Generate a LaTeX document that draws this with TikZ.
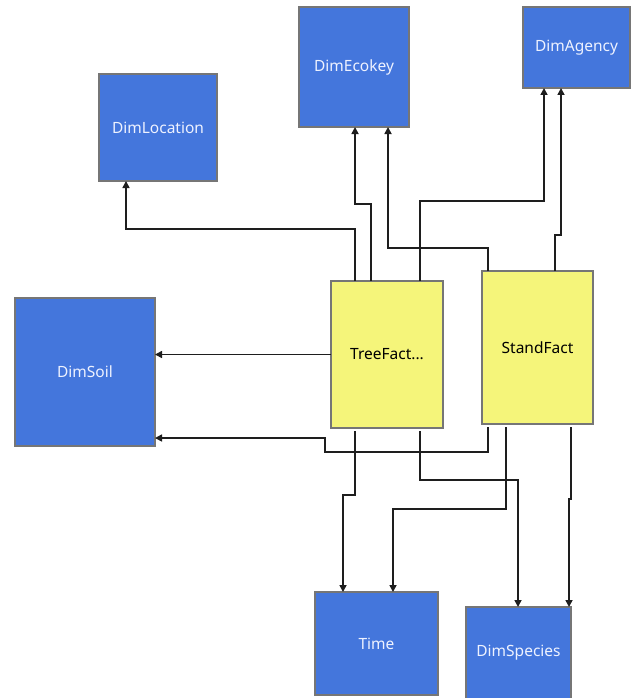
\documentclass[tikz,border=0pt]{standalone}
\usepackage{fontspec}
\setmainfont{Noto Sans}
\usetikzlibrary{arrows.meta}
\definecolor{dimblue}{RGB}{68,118,220}
\definecolor{factyellow}{RGB}{245,245,122}
\definecolor{boxedge}{RGB}{118,118,118}
\definecolor{dimtext}{RGB}{238,242,255}
\definecolor{wire}{RGB}{30,30,30}
\begin{document}
\begin{tikzpicture}[x=1pt,y=-1pt,
  tbox/.style={draw=boxedge,line width=1.4pt,anchor=north west,inner sep=0pt,outer sep=0pt,
    font=\fontsize{15.5}{18}\selectfont},
  dim/.style={tbox,fill=dimblue,text=dimtext},
  fact/.style={tbox,fill=factyellow,text=black},
  conn/.style={draw=wire,line width=1.6pt,-{Triangle[length=7pt,width=7pt]}},
  gap/.style={shorten <=3pt}]
\useasboundingbox (0,0) rectangle (633,698);
\fill[white] (0,0) rectangle (633,698);

% dimension tables
\node[dim,minimum width=118pt,minimum height=107pt] (loc) at (99,74) {DimLocation};
\node[dim,minimum width=110pt,minimum height=120pt] (eco) at (299,7) {DimEcokey};
\node[dim,minimum width=107pt,minimum height=81pt] (agency) at (523,7) {DimAgency};
\node[dim,minimum width=140pt,minimum height=148pt] (soil) at (15,298) {DimSoil};
\node[dim,minimum width=123pt,minimum height=103pt] (time) at (315,592) {Time};
\node[dim,minimum width=105pt,minimum height=92pt] (species) at (466,607) {DimSpecies};

% fact tables
\node[fact,minimum width=112pt,minimum height=147pt] (tree) at (331,281) {TreeFact...};
\node[fact,minimum width=111pt,minimum height=153pt] (stand) at (482,271) {StandFact};

% links upwards
\draw[conn] ([xshift=24pt]tree.north west) -- ++(0,-52) -| ([xshift=27pt]loc.south west);
\draw[conn] ([xshift=40pt]tree.north west) -- ++(0,-77) -| ([xshift=56pt]eco.south west);
\draw[conn] ([xshift=6pt]stand.north west) -- ++(0,-23) -| ([xshift=89pt]eco.south west);
\draw[conn] ([xshift=89pt]tree.north west) -- ++(0,-80) -| ([xshift=21pt]agency.south west);
\draw[conn] ([xshift=73pt]stand.north west) -- ++(0,-36) -| ([xshift=38pt]agency.south west);

% links to the left
\draw[conn] (tree.west) -- (tree.west -| soil.east);
\draw[conn,gap] ([xshift=6pt]stand.south west) -- ++(0,28) -- ++(-163,0) |- ([yshift=8pt]soil.south east);

% links downwards
\draw[conn,gap] ([xshift=24pt]tree.south west) -- ++(0,67) -| ([xshift=28pt]time.north west);
\draw[conn,gap] ([xshift=24pt]stand.south west) -- ++(0,85) -| ([xshift=78pt]time.north west);
\draw[conn,gap] ([xshift=89pt]tree.south west) -- ++(0,52) -| ([xshift=52pt]species.north west);
\draw[conn,gap] ([xshift=89pt]stand.south west) -- ++(0,75) -| ([xshift=103pt]species.north west);
\end{tikzpicture}
\end{document}
